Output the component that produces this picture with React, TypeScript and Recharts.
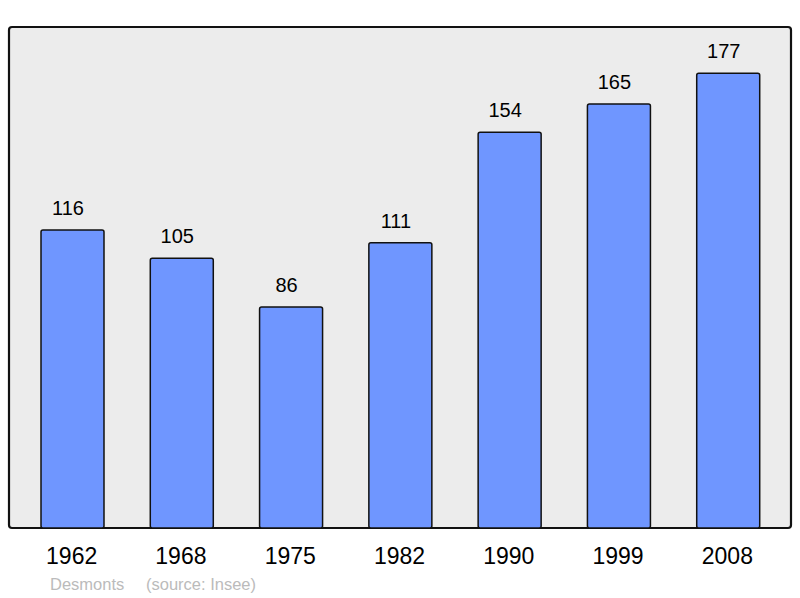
import React from 'react';
import * as R from 'recharts';
import { BarChart, Bar, XAxis, YAxis, CartesianGrid } from 'recharts';

const years = ['1962', '1968', '1975', '1982', '1990', '1999', '2008'];
const population = [116, 105, 86, 111, 154, 165, 177];
const yDomain = [0, 195];
const credit = 'Desmonts';
const source = '(source: Insee)';

const data = years.map((y, i) => ({ year: y, value: population[i] }));

const FONT = '"Liberation Sans", Arial, sans-serif';

const usePlotBox: any = (R as any).usePlotArea || (R as any).useOffset || (() => null);

function PlotFrame() {
  const a = usePlotBox();
  if (!a) return null;
  const x = a.x ?? a.left;
  const y = a.y ?? a.top;
  return (
    <rect
      x={x}
      y={y}
      width={a.width}
      height={a.height}
      rx={3}
      ry={3}
      fill="none"
      stroke="#111"
      strokeWidth={2.2}
    />
  );
}

const renderLabel = (props: any) => {
  const { x, y, width, value } = props;
  return (
    <text
      x={x + width / 2 - 4.5}
      y={y - 15}
      textAnchor="middle"
      fontSize={20}
      fontFamily={FONT}
      fill="#000"
    >
      {value}
    </text>
  );
};

export default function App() {
  return (
    <div style={{ position: 'absolute', left: 0, top: 0, width: 800, height: 598, background: '#fff' }}>
      <BarChart
        width={800}
        height={598}
        data={data}
        margin={{ top: 27, right: 9, left: 9, bottom: 0 }}
      >
        <CartesianGrid horizontal={false} vertical={false} fill="#ececec" />
        <YAxis hide domain={yDomain} type="number" />
        <XAxis
          dataKey="year"
          height={70}
          padding={{ left: 9, right: 8 }}
          axisLine={false}
          tickLine={false}
          tickSize={6}
          tickMargin={14}
          tick={{ fontSize: 23, fontFamily: FONT, fill: '#000', dx: -1 }}
          interval={0}
        />
        <Bar
          dataKey="value"
          fill="#6f96ff"
          stroke="#111"
          strokeWidth={1.5}
          barSize={63}
          radius={2}
          isAnimationActive={false}
          label={renderLabel}
        />
        <PlotFrame />
      </BarChart>
      <svg width={800} height={598} style={{ position: 'absolute', left: 0, top: 0, pointerEvents: 'none' }}>
        <text x={50} y={590} fontSize={16.5} fontFamily={FONT} fill="#bbbbbb">{credit}</text>
        <text x={146} y={590} fontSize={16.5} fontFamily={FONT} fill="#bbbbbb">{source}</text>
      </svg>
    </div>
  );
}
